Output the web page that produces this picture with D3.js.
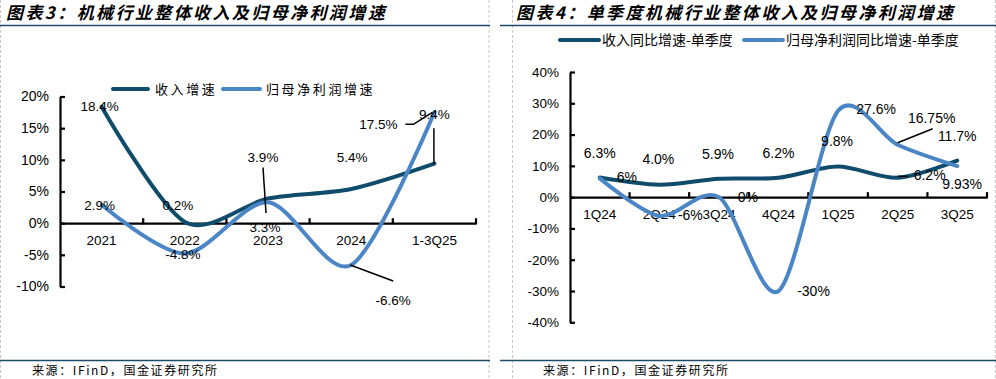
<!DOCTYPE html>
<html><head><meta charset="utf-8">
<script src="https://cdn.jsdelivr.net/npm/d3@7"></script>
<style>
html,body{margin:0;padding:0;background:#fff;}
svg{display:block;}
text{font-family:"Liberation Sans",Arial,sans-serif;fill:#000;}
.cjk{font-family:"Noto Sans CJK SC",sans-serif;}
</style></head>
<body>
<svg id="c" width="996" height="379"></svg>
<script>
// ---------- DATA ----------
const leftCategories = ["2021","2022","2023","2024","1-3Q25"];
const leftRevenue = [18.4, 0.2, 3.9, 5.4, 9.4];
const leftProfit  = [2.9, -4.8, 3.3, -6.6, 17.5];
const leftRevenueLabels = ["18.4%","0.2%","3.9%","5.4%","9.4%"];
const leftProfitLabels  = ["2.9%","-4.8%","3.3%","-6.6%","17.5%"];
const leftYTicks = [-10,-5,0,5,10,15,20];

const rightCategories = ["1Q24","2Q24","3Q24","4Q24","1Q25","2Q25","3Q25"];
const rightRevenue = [6.3, 4.0, 5.9, 6.2, 9.8, 6.2, 11.7];
const rightProfit  = [6, -6, 0, -30, 27.6, 16.75, 9.93];
const rightRevenueLabels = ["6.3%","4.0%","5.9%","6.2%","9.8%","6.2%","11.7%"];
const rightProfitLabels  = ["6%","-6%","0%","-30%","27.6%","16.75%","9.93%"];
const rightYTicks = [-40,-30,-20,-10,0,10,20,30,40];

const leftTitle = "图表3：机械行业整体收入及归母净利润增速";
const rightTitle = "图表4：单季度机械行业整体收入及归母净利润增速";
const leftLegend = ["收入增速","归母净利润增速"];
const rightLegend = ["收入同比增速-单季度","归母净利润同比增速-单季度"];
const sourceText = "来源：IFinD，国金证券研究所";

// ---------- STYLE / LAYOUT ----------
const DARK = "#0f4c6c", LIGHT = "#4a86c6", RULE = "#1c4a6a";
const svg = d3.select("#c");

function dashV(x){ svg.append("line").attr("x1",x).attr("x2",x).attr("y1",0).attr("y2",379)
  .attr("stroke","#c8c8c8").attr("stroke-width",1).attr("stroke-dasharray","3,2"); }
[0.5, 489, 512.5, 995.5].forEach(dashV);
function rule(x1,x2,y){ svg.append("line").attr("x1",x1).attr("x2",x2).attr("y1",y).attr("y2",y)
  .attr("stroke",RULE).attr("stroke-width",1.5); }
rule(0,490,25.5); rule(500,996,25.5);
rule(0,490,360.5); rule(500,996,360.5);

function title(x, t){ svg.append("text").attr("class","cjk").attr("x",x).attr("y",13.5).attr("dy","0.35em")
  .attr("font-size",17).attr("font-weight","bold").attr("font-style","italic")
  .attr("letter-spacing",2.4).attr("fill","#111").text(t); }
title(6,leftTitle); title(516,rightTitle);
function src(x){ svg.append("text").attr("class","cjk").attr("x",x).attr("y",371).attr("dy","0.35em")
  .attr("font-size",12).attr("letter-spacing",1.6).attr("fill","#222").text(sourceText); }
src(32); src(543);

function chart(cfg){
  const g = svg.append("g");
  const x = d3.scaleBand().domain(cfg.cats).range([cfg.x0,cfg.x1]);
  const y = d3.scaleLinear().domain(cfg.yDomain).range([cfg.yBottom,cfg.yTop]);
  const y0 = y(0);
  const xc = c => x(c) + x.bandwidth()/2;

  const ya = g.append("g").attr("transform",`translate(${cfg.x0},0)`)
    .call(d3.axisLeft(y).tickValues(cfg.yTicks).tickSizeInner(-5).tickSizeOuter(0).tickPadding(11)
      .tickFormat(d=>d+"%"));
  ya.select(".domain").attr("stroke","#000").attr("stroke-width",2.2);
  ya.selectAll(".tick line").attr("stroke","#000").attr("stroke-width",2.2);
  ya.selectAll("text").attr("font-family","Liberation Sans, Arial, sans-serif").attr("font-size",cfg.tickFont).attr("fill","#000");

  const xa = g.append("g").attr("transform",`translate(0,${y0})`)
    .call(d3.axisBottom(x).tickSize(0).tickSizeOuter(0));
  xa.select(".domain").attr("stroke","#000").attr("stroke-width",2.2);
  xa.selectAll("text").attr("y",cfg.xLabelOff).attr("dy","0.35em")
    .attr("font-family","Liberation Sans, Arial, sans-serif").attr("font-size",cfg.xFont).attr("fill","#000");
  const bounds = cfg.cats.slice(1).map(c=>x(c)).concat([x.range()[1]]);
  g.selectAll(".btick").data(bounds).enter().append("line")
    .attr("x1",d=>d).attr("x2",d=>d).attr("y1",y0+1).attr("y2",y0-5)
    .attr("stroke","#000").attr("stroke-width",2.2);

  const line = d3.line().x((d,i)=>xc(cfg.cats[i])).y(d=>y(d)).curve(d3.curveCardinal.tension(0.12));
  g.append("path").attr("d",line(cfg.rev)).attr("fill","none").attr("stroke",DARK).attr("stroke-width",4).attr("stroke-linecap","round");
  g.append("path").attr("d",line(cfg.prof)).attr("fill","none").attr("stroke",LIGHT).attr("stroke-width",4).attr("stroke-linecap","round");

  cfg.leaders.forEach(L=>{
    const [s,i] = L.ref; const v = (s==="r"?cfg.rev:cfg.prof)[i];
    const px = xc(cfg.cats[i]), py = y(v);
    g.append("path").attr("d", d3.line()(L.pts.map(p=>[px+p[0],py+p[1]])))
      .attr("fill","none").attr("stroke","#000").attr("stroke-width",1.5);
  });
  function labels(vals, texts, offs){
    vals.forEach((v,i)=>{
      g.append("text").attr("x",xc(cfg.cats[i])+offs[i][0]).attr("y",y(v)+offs[i][1]).attr("dy","0.35em")
        .attr("text-anchor","middle").attr("font-size",cfg.labFont).text(texts[i]);
    });
  }
  labels(cfg.rev, cfg.revLabels, cfg.revOff);
  labels(cfg.prof, cfg.profLabels, cfg.profOff);

  const Lg = cfg.legend;
  [[DARK,Lg.items[0],Lg.x[0],Lg.x[1],Lg.x[2]],[LIGHT,Lg.items[1],Lg.x[3],Lg.x[4],Lg.x[5]]].forEach(it=>{
    g.append("line").attr("x1",it[2]).attr("x2",it[3]).attr("y1",Lg.y).attr("y2",Lg.y)
      .attr("stroke",it[0]).attr("stroke-width",4).attr("stroke-linecap","round");
    g.append("text").attr("class","cjk").attr("x",it[4]).attr("y",Lg.y).attr("dy","0.35em")
      .attr("font-size",Lg.font).attr("letter-spacing",Lg.ls).attr("fill","#111").text(it[1]);
  });
}

chart({
  cats:leftCategories, rev:leftRevenue, prof:leftProfit,
  revLabels:leftRevenueLabels, profLabels:leftProfitLabels,
  x0:60, x1:476, yDomain:[-10,20], yBottom:286.5, yTop:96.5, yTicks:leftYTicks,
  tickFont:14, xFont:13.5, labFont:13.5, xLabelOff:17.5,
  revOff:[[-2,0],[-7,-17],[-5,-41],[1,-32],[0,-49]],
  profOff:[[-2,0],[-2,1],[-3,25],[42,35],[-56,12]],
  leaders:[
    {ref:["r",2], pts:[[-5,-31],[-2,14.5]]},
    {ref:["r",4], pts:[[-0.5,-35.5],[-0.5,0]]},
    {ref:["p",3], pts:[[-1,0],[42,16]]},
    {ref:["p",4], pts:[[-29,12],[-21,12],[-2,0]]}
  ],
  legend:{items:leftLegend, x:[113,148,155,223,260,266], y:89, font:13, ls:2.6}
});

chart({
  cats:rightCategories, rev:rightRevenue, prof:rightProfit,
  revLabels:rightRevenueLabels, profLabels:rightProfitLabels,
  x0:570, x1:987, yDomain:[-40,40], yBottom:322.3, yTop:72, yTicks:rightYTicks,
  tickFont:13.5, xFont:13.5, labFont:14, xLabelOff:17,
  revOff:[[0,-24],[-1,-25.5],[-1,-24.5],[0,-25],[-1,-25],[32,-2.6],[0,-24]],
  profOff:[[27,-1],[31,-1],[29,0],[35,0],[38,-2],[34,-27],[5,18]],
  leaders:[
    {ref:["r",5], pts:[[0,-1.5],[10,-1.5]]},
    {ref:["p",5], pts:[[0,-2],[35,-16]]}
  ],
  legend:{items:rightLegend, x:[560,599,602,744,783,786], y:40, font:14, ls:0}
});
</script>
</body></html>
